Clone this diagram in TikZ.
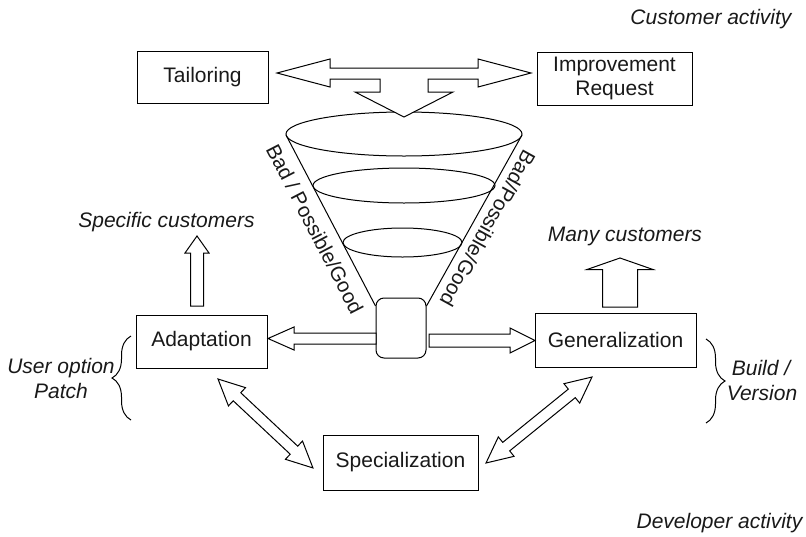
\documentclass[tikz,border=0pt]{standalone}
\usepackage{fontspec}
\setmainfont{Liberation Sans}
\usetikzlibrary{decorations.pathreplacing}

% Block arrow with two heads between two named points
% #1,#2 tips, #3 shaft half-width, #4 head half-width, #5 head length (pt)
\newcommand\dblblockarrow[5]{%
  \pgfpointdiff{\pgfpointanchor{#1}{center}}{\pgfpointanchor{#2}{center}}%
  \pgfgetlastxy{\bdx}{\bdy}%
  \pgfmathsetmacro\bang{atan2(\bdy,\bdx)}%
  \pgfmathsetmacro\blen{veclen(\bdx,\bdy)}%
  \begin{scope}[shift={(#1)}, rotate=\bang]
    \draw[blk] (0pt,0pt) -- (#5pt,#4pt) -- (#5pt,#3pt)
      -- ({\blen pt-#5pt},#3pt) -- ({\blen pt-#5pt},#4pt) -- (\blen pt,0pt)
      -- ({\blen pt-#5pt},-#4pt) -- ({\blen pt-#5pt},-#3pt)
      -- (#5pt,-#3pt) -- (#5pt,-#4pt) -- cycle;
  \end{scope}}

% Block arrow with one head, from tail point #1 to tip #2
\newcommand\sglblockarrow[5]{%
  \pgfpointdiff{\pgfpointanchor{#1}{center}}{\pgfpointanchor{#2}{center}}%
  \pgfgetlastxy{\bdx}{\bdy}%
  \pgfmathsetmacro\bang{atan2(\bdy,\bdx)}%
  \pgfmathsetmacro\blen{veclen(\bdx,\bdy)}%
  \begin{scope}[shift={(#1)}, rotate=\bang]
    \draw[blk] (0pt,#3pt) -- ({\blen pt-#5pt},#3pt) -- ({\blen pt-#5pt},#4pt)
      -- (\blen pt,0pt) -- ({\blen pt-#5pt},-#4pt) -- ({\blen pt-#5pt},-#3pt)
      -- (0pt,-#3pt) -- cycle;
  \end{scope}}

\begin{document}
\begin{tikzpicture}[x=1pt, y=-1pt,
  every node/.style={font=\fontsize{21}{24}\selectfont, text=black!90},
  box/.style={draw, line width=1pt, inner sep=0pt, align=center},
  blk/.style={draw, line width=1pt, fill=white, line join=miter},
  note/.style={font=\fontsize{21}{25}\selectfont\itshape, align=center},
  slant/.style={font=\fontsize{20.5}{24}\selectfont, inner sep=0pt},
  funnel/.style={line width=1pt},
  curly/.style={line width=1pt, decorate,
    decoration={brace, amplitude=19pt, aspect=0.5}}]

\useasboundingbox (0,0) rectangle (806,536);

% ---- boxes ----
\node[box, minimum width=131pt, minimum height=52pt] (tail) at (202.5,77) {Tailoring};
\node[box, minimum width=155pt, minimum height=53pt] (impr) at (614.5,78.5) {Improvement\\Request};
\node[box, minimum width=131pt, minimum height=53pt] (adapt) at (201.5,341.5) {Adaptation};
\node[box, minimum width=161pt, minimum height=54pt] (gen) at (615.5,340) {Generalization};
\node[box, minimum width=155pt, minimum height=55pt] (spec) at (400.5,462.5) {Specialization};
\node[box, rounded corners=8pt, minimum width=50pt, minimum height=60pt] (hub) at (401,328) {};

% ---- funnel ----
\draw[funnel] (404,134) ellipse [x radius=118pt, y radius=22pt];
\draw[funnel] (404,185.5) ellipse [x radius=91pt, y radius=17.5pt];
\draw[funnel] (402.5,242.5) ellipse [x radius=59.5pt, y radius=14.5pt];
\coordinate (fl) at (286,135);
\coordinate (fr) at (522,135);
\draw[funnel] (fl) -- (hub.north west |- 0,306);
\draw[funnel] (fr) -- (hub.north east |- 0,306);

\node[slant, rotate=-62.6] (lbl) at (315,229) {Bad / Possible/Good};
\node[slant, rotate=-118.9] (rbl) at (488,228.5) {Bad/Possible/Good};

% ---- top combined arrow: Tailoring <-> Improvement Request, down into funnel ----
\coordinate (top) at (404,73);
\begin{scope}[shift={(top)}]
  \draw[blk] (-127,0) -- (-74,-14) -- (-74,-5) -- (74,-5) -- (74,-14) -- (127,0)
    -- (74,14) -- (74,6) -- (24,6) -- (24,19) -- (49,19) -- (0,44)
    -- (-49,19) -- (-24,19) -- (-24,6) -- (-74,6) -- (-74,14) -- cycle;
\end{scope}

% ---- hub arrows to Adaptation and Generalization ----
\coordinate (hl) at (376,338.5);
\coordinate (al) at (268,338.5);
\sglblockarrow{hl}{al}{5.5}{11.5}{26}
\coordinate (hr) at (429,340.5);
\coordinate (gr) at (535,340.5);
\sglblockarrow{hr}{gr}{6.5}{12.5}{25}

% ---- diagonal double arrows ----
\coordinate (d1a) at (218,379);
\coordinate (d1b) at (313,468);
\dblblockarrow{d1a}{d1b}{5.5}{12.5}{26}
\coordinate (d2a) at (486,463);
\coordinate (d2b) at (592,377);
\dblblockarrow{d2a}{d2b}{5.5}{12.5}{26}

% ---- upward arrows ----
\coordinate (u1a) at (197,306);
\coordinate (u1b) at (197,236);
\sglblockarrow{u1a}{u1b}{6.5}{12}{17}
\coordinate (u2a) at (620,307);
\coordinate (u2b) at (620,258);
\sglblockarrow{u2a}{u2b}{17.5}{33}{11.5}

% ---- braces ----
\draw[curly] (131,420) -- (131,336);
\draw[curly] (706,339) -- (706,423);

% ---- annotations ----
\node[note, anchor=base] (cust) at (711,24) {Customer activity};
\node[note, anchor=base] (dev) at (719.5,528) {Developer activity};
\node[note, anchor=base] (specc) at (166.5,227) {Specific customers};
\node[note, anchor=base] (many) at (625,241) {Many customers};
\node[note, anchor=base] (uo) at (61,373) {User option};
\node[note, anchor=base] (pt) at (61,398) {Patch};
\node[note, anchor=base] (bd) at (761,375) {Build /};
\node[note, anchor=base] (vr) at (762,400) {Version};

\end{tikzpicture}
\end{document}
